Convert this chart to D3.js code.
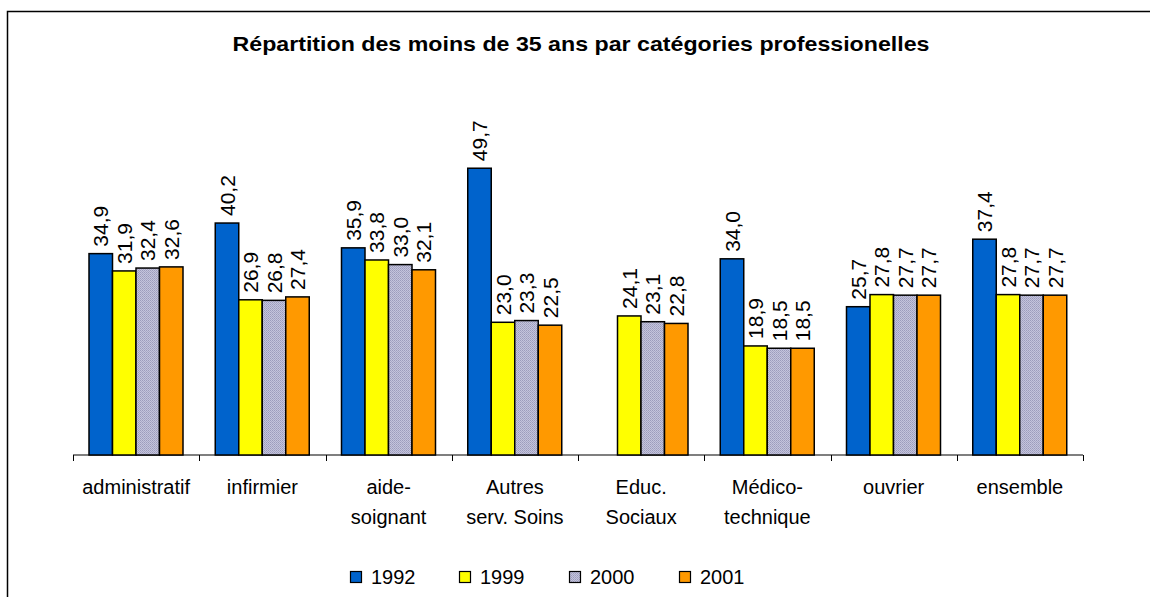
<!DOCTYPE html>
<html>
<head>
<meta charset="utf-8">
<script src="https://cdn.jsdelivr.net/npm/d3@7"></script>
<style>
  body { margin: 0; background: #fff; }
  svg  { display: block; font-family: Arial, "Liberation Sans", sans-serif; }
</style>
</head>
<body>
<svg id="chart" width="1150" height="597"></svg>
<script>

const categories = ['administratif', 'infirmier', 'aide-\nsoignant', 'Autres\nserv. Soins',
                    'Educ.\nSociaux', 'Médico-\ntechnique', 'ouvrier', 'ensemble'];
const years      = ['1992', '1999', '2000', '2001'];

const v1992 = [34.9, 40.2, 35.9, 49.7, null, 34.0, 25.7, 37.4];
const v1999 = [31.9, 26.9, 33.8, 23.0, 24.1, 18.9, 27.8, 27.8];
const v2000 = [32.4, 26.8, 33.0, 23.3, 23.1, 18.5, 27.7, 27.7];
const v2001 = [32.6, 27.4, 32.1, 22.5, 22.8, 18.5, 27.7, 27.7];

const series = [v1992, v1999, v2000, v2001];
const colors = ['#0063cc', '#ffff00', 'url(#dots)', '#ff9900'];

const titleText = 'Répartition des moins de 35 ans par catégories professionelles';

const svg = d3.select('#chart');

// frame
svg.append('rect')
    .attr('x', 7.5).attr('y', 11.5)
    .attr('width', 1200).attr('height', 700)
    .attr('fill', 'none').attr('stroke', '#000').attr('stroke-width', 1.5);

// dotted fill for 2000
const pat = svg.append('defs').append('pattern')
    .attr('id', 'dots').attr('patternUnits', 'userSpaceOnUse')
    .attr('width', 2).attr('height', 2);
pat.append('rect').attr('width', 2).attr('height', 2).attr('fill', '#c4c4dc');
pat.append('rect').attr('width', 1).attr('height', 1).attr('fill', '#9c9cbc');
pat.append('rect').attr('x', 1).attr('y', 1).attr('width', 1).attr('height', 1).attr('fill', '#a8a8c6');

svg.append('text')
    .attr('x', 581).attr('y', 51)
    .attr('text-anchor', 'middle')
    .attr('font-size', 21).attr('font-weight', 'bold')
    .attr('textLength', 697).attr('lengthAdjust', 'spacingAndGlyphs')
    .text(titleText);

const baseY = 455;

const x0 = d3.scaleBand()
    .domain(d3.range(categories.length))
    .range([73, 1083]);

const x1 = d3.scaleBand()
    .domain(years)
    .range([16, 110]);

const y = d3.scaleLinear()
    .domain([0, 50])
    .range([baseY, baseY - 288.5]);

const fmt = d3.formatLocale({decimal: ',', thousands: ' ', grouping: [3], currency: ['', '']}).format('.1f');

// axis
const axis = d3.axisBottom(x0).tickSize(0).tickFormat('');
const axisG = svg.append('g')
    .attr('transform', `translate(0,${baseY})`)
    .call(axis);
axisG.select('.domain').attr('d', `M73,0H1083`).attr('stroke', '#000').attr('stroke-width', 1.2);

// boundary ticks
svg.append('g').selectAll('line')
  .data(d3.range(categories.length + 1))
  .enter().append('line')
    .attr('x1', i => Math.round(x0.range()[0] + i * x0.step()) + 0.5)
    .attr('x2', i => Math.round(x0.range()[0] + i * x0.step()) + 0.5)
    .attr('y1', baseY).attr('y2', baseY + 6)
    .attr('stroke', '#000').attr('stroke-width', 1);

// bars
const bars = [];
series.forEach((vals, s) => {
  vals.forEach((v, c) => {
    if (v == null) { return; }
    bars.push({ s, c, v });
  });
});

const g = svg.append('g');

g.selectAll('rect.bar').data(bars)
  .enter().append('rect')
    .attr('class', 'bar')
    .attr('x', d => x0(d.c) + x1(years[d.s]))
    .attr('y', d => y(d.v))
    .attr('width', x1.bandwidth())
    .attr('height', d => baseY - y(d.v))
    .attr('fill', d => colors[d.s])
    .attr('stroke', '#000')
    .attr('stroke-width', 1.5);

g.selectAll('text.val').data(bars)
  .enter().append('text')
    .attr('class', 'val')
    .attr('transform', d => {
      const cx = x0(d.c) + x1(years[d.s]) + x1.bandwidth() / 2 + 7.5;
      return `translate(${cx},${y(d.v) - 7}) rotate(-90)`;
    })
    .attr('font-size', 21)
    .text(d => fmt(d.v));

// category labels
const catG = svg.append('g');
categories.forEach((c, i) => {
  const t = catG.append('text')
      .attr('x', x0(i) + x0.bandwidth() / 2)
      .attr('y', 494)
      .attr('text-anchor', 'middle')
      .attr('font-size', 20);
  c.split('\n').forEach((line, k) => {
    t.append('tspan')
        .attr('x', x0(i) + x0.bandwidth() / 2)
        .attr('dy', k === 0 ? 0 : 30)
        .text(line);
  });
});

// legend
const legX = [350, 459, 569, 679];
const leg = svg.append('g').selectAll('g')
  .data(years)
  .enter().append('g')
    .attr('transform', (d, i) => `translate(${legX[i]},571)`);

leg.append('rect')
    .attr('x', 0.5).attr('y', 0.5)
    .attr('width', 11).attr('height', 11)
    .attr('fill', (d, i) => colors[i])
    .attr('stroke', '#000').attr('stroke-width', 1.2);

leg.append('text')
    .attr('x', 21).attr('y', 12.5)
    .attr('font-size', 20)
    .text(d => d);

</script>
</body>
</html>
